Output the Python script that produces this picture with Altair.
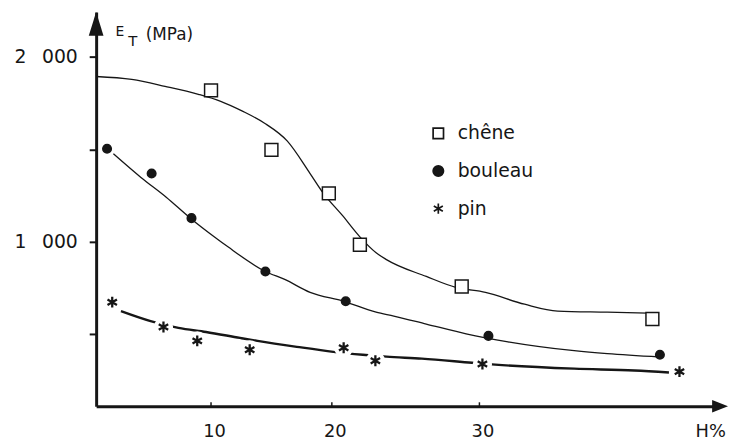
import altair as alt
import pandas as pd

# ---------------- data ----------------
species = ["chêne", "bouleau", "pin"]

# measured points (H %, E_T MPa)
chene_H = [10.0, 15.0, 19.75, 21.9, 28.8, 41.5]
chene_E = [1818, 1497, 1262, 984, 759, 583]
bouleau_H = [0.95, 4.83, 8.3, 14.5, 20.94, 30.6, 42.0]
bouleau_E = [1503, 1369, 1128, 840, 679, 492, 390]
pin_H = [1.4, 5.86, 8.8, 13.2, 20.8, 22.95, 30.2, 43.3]
pin_E = [674, 540, 465, 417, 428, 358, 340, 299]

# hand-drawn fitted curves
chene_curve_H = [0, 3.1, 6.0, 8.9, 10.8, 12.6, 14.4, 16.3, 18.2, 19.3, 20.7, 21.9,
                 23.0, 23.7, 26.4, 28.4, 30.4, 33.0, 35.2, 38.5, 41.2]
chene_curve_E = [1893, 1877, 1840, 1797, 1759, 1706, 1642, 1545, 1369, 1262, 1144, 1027,
                 941, 904, 813, 754, 727, 663, 626, 620, 615]
bouleau_curve_H = [1.5, 3.9, 6.1, 8.2, 10.4, 11.4, 14.5, 16.1, 18.2, 20.8, 23.0, 24.2,
                   26.4, 29.1, 31.9, 36.3, 38.5, 42.0]
bouleau_curve_E = [1476, 1348, 1241, 1128, 1021, 973, 840, 797, 727, 679, 620, 599,
                   556, 503, 460, 412, 396, 378]
pin_curve_H = [2.16, 4.74, 7.16, 9.57, 12.4, 13.85, 17.1, 20.1, 22.1, 23.7, 26.1, 29.5,
               31.05, 36.3, 40.3, 42.6]
pin_curve_E = [626, 572, 535, 513, 481, 465, 433, 406, 390, 380, 369, 347,
               337, 315, 305, 294]

# axis ticks
x_ticks = [10, 20, 30]
y_ticks = [500, 1000, 1500, 2000]
y_labels = {1000: "1\u2002\u00a0000", 2000: "2\u2002\u00a0000"}

# ---------------- tables ----------------
pts = pd.DataFrame({
    "H": chene_H + bouleau_H + pin_H,
    "E": chene_E + bouleau_E + pin_E,
    "species": [species[0]] * len(chene_H) + [species[1]] * len(bouleau_H) + [species[2]] * len(pin_H),
})
pin_pts = pd.DataFrame({"H": pin_H, "E": pin_E})
chene_curve = pd.DataFrame({"H": chene_curve_H, "E": chene_curve_E})
bouleau_curve = pd.DataFrame({"H": bouleau_curve_H, "E": bouleau_curve_E})
pin_curve = pd.DataFrame({"H": pin_curve_H, "E": pin_curve_E})
tick_df = pd.DataFrame({"H": x_ticks})
one = pd.DataFrame({"a": [0]})

W, Hh = 630, 398
INK = "#161616"
FONT = "DejaVu Sans"

# hand-drawn axis has uneven tick spacing -> piecewise linear scale
xscale = alt.Scale(domain=[0, 10, 20, 30, 46], range=[0, 116, 238, 387, W], nice=False, zero=False)
yscale = alt.Scale(domain=[112, 2241], nice=False, zero=False)

label_expr = " : ".join(f"datum.value == {k} ? '{v}'" for k, v in y_labels.items()) + " : ''"

xaxis = alt.Axis(values=x_ticks, ticks=False, grid=False, domainWidth=3, domainColor=INK,
                 labelFont=FONT, labelFontSize=18, labelColor=INK, labelPadding=17,
                 labelOffset=3,
                 title="H%", titleFont=FONT, titleFontSize=18, titleFontWeight="normal",
                 titleColor=INK, titleX=620, titleY=26, titleAlign="center",
                 titleBaseline="middle", labelFlush=False)
yaxis = alt.Axis(values=y_ticks, labelExpr=label_expr, grid=False, domainWidth=3,
                 domainColor=INK, tickColor=INK, tickWidth=2, tickSize=7,
                 labelFont=FONT, labelFontSize=19, labelColor=INK, labelPadding=12,
                 title=None, labelFlush=False)

X = alt.X("H:Q", scale=xscale, axis=xaxis)
Y = alt.Y("E:Q", scale=yscale, axis=yaxis)

chene_line = alt.Chart(chene_curve).mark_line(interpolate="monotone", color=INK, strokeWidth=1.3).encode(x=X, y=Y)
bouleau_line = alt.Chart(bouleau_curve).mark_line(interpolate="monotone", color=INK, strokeWidth=1.3).encode(x=X, y=Y)
pin_line = alt.Chart(pin_curve).mark_line(interpolate="monotone", color=INK, strokeWidth=2.4).encode(x=X, y=Y)

# white halos breaking the pin line at its stars
halos = alt.Chart(pin_pts).mark_point(filled=True, color="white", size=380, opacity=1, shape="circle").encode(x=X, y=Y)

ASTER = "M0,-1L0,1M-0.87,-0.5L0.87,0.5M-0.87,0.5L0.87,-0.5"
leg = alt.Legend(title=None, orient="none", legendX=336, legendY=113, padding=0,
                 labelFont=FONT, labelFontSize=19, labelColor=INK, labelOffset=10,
                 rowPadding=18, symbolOpacity=1, symbolSize=110, symbolStrokeWidth=1.7)
size_rule = (alt.when(alt.datum.species == "bouleau").then(alt.value(75))
             .when(alt.datum.species == "pin").then(alt.value(120))
             .otherwise(alt.value(169)))
markers = alt.Chart(pts).mark_point(opacity=1).encode(
    x=X, y=Y,
    shape=alt.Shape("species:N", scale=alt.Scale(domain=species, range=["square", "circle", ASTER]), legend=leg),
    fill=alt.Fill("species:N", scale=alt.Scale(domain=species, range=["white", INK, "white"]), legend=leg),
    stroke=alt.Stroke("species:N", scale=alt.Scale(domain=species, range=[INK, INK, INK]), legend=leg),
    size=size_rule,
    strokeWidth=alt.condition("datum.species == 'pin'", alt.value(2.3), alt.value(1.5)),
)

xticks = alt.Chart(tick_df).mark_rule(color=INK, strokeWidth=1.5).encode(
    x=X, y=alt.value(Hh - 4), y2=alt.value(Hh))

y_arrow = alt.Chart(one).mark_point(shape="M0,-1L-0.62,1L0.62,1Z", filled=True, color=INK,
                                    size=576, opacity=1).encode(x=alt.value(0), y=alt.value(12))
x_arrow = alt.Chart(one).mark_point(shape="M1,0L-1,-0.8L-1,0.8Z", filled=True, color=INK,
                                    size=256, opacity=1).encode(x=alt.value(W), y=alt.value(Hh))

t_E = alt.Chart(one).mark_text(text="E", font=FONT, fontSize=14, color=INK, baseline="middle").encode(
    x=alt.value(24), y=alt.value(20))
t_T = alt.Chart(one).mark_text(text="T", font=FONT, fontSize=15, color=INK, baseline="middle").encode(
    x=alt.value(37), y=alt.value(29))
t_M = alt.Chart(one).mark_text(text="(MPa)", font=FONT, fontSize=17, color=INK, baseline="middle").encode(
    x=alt.value(74), y=alt.value(23))

chart = alt.layer(
    chene_line, bouleau_line, pin_line, halos, markers, xticks, y_arrow, x_arrow, t_E, t_T, t_M
).properties(
    width=W, height=Hh,
    autosize=alt.AutoSizeParams(type="none"),
    padding={"left": 89, "top": 2, "right": 8, "bottom": 36},
    background="white",
).configure_view(stroke=None)

chart.save("out.html", embed_options={"renderer": "svg", "actions": False})
